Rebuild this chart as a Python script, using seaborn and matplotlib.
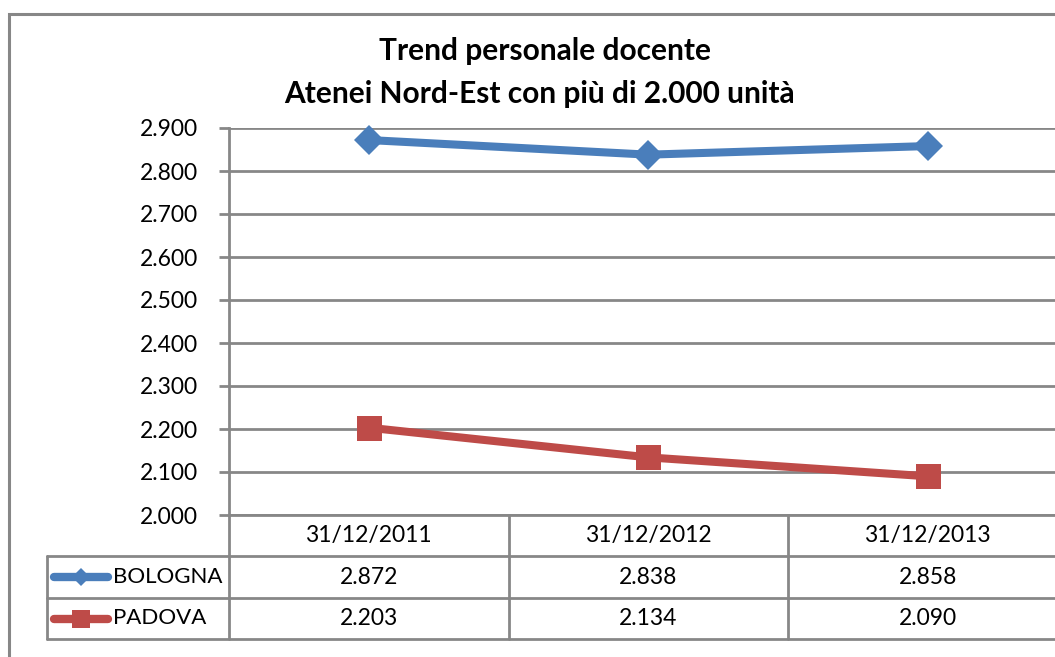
import matplotlib
matplotlib.use("Agg")
import matplotlib.pyplot as plt
import seaborn as sns
import pandas as pd
from matplotlib.lines import Line2D
from matplotlib.patches import Rectangle
from matplotlib.ticker import FuncFormatter, MultipleLocator
import matplotlib.transforms as mtransforms

# ---- data ----
categories = ["31/12/2011", "31/12/2012", "31/12/2013"]
bologna = [2872, 2838, 2858]
padova = [2203, 2134, 2090]
series_names = ["BOLOGNA", "PADOVA"]
title_lines = ["Trend personale docente", "Atenei Nord-Est con più di 2.000 unità"]

BLUE = "#4A7EBB"
RED = "#BE4B48"
GRID = "#878787"

sns.set_theme(style="white")
plt.rcParams["font.family"] = ["Lato", "DejaVu Sans"]
plt.rcParams["text.color"] = "black"

W, H = 1055, 657
fig = plt.figure(figsize=(W / 100, H / 100), dpi=100)

def fx(px):
    return px / W

def fy(py):
    return 1 - py / H

# plot area
left, right, top, bottom = 229, 1067.5, 128, 515
ax = fig.add_axes([fx(left), fy(bottom), fx(right - left), (bottom - top) / H])

x_idx = list(range(len(categories)))
df_b = pd.DataFrame({"x": x_idx, "value": bologna})
df_p = pd.DataFrame({"x": x_idx, "value": padova})

sns.lineplot(data=df_b, x="x", y="value", color=BLUE, marker="D",
             linewidth=5.8, markersize=15, markeredgewidth=0,
             ax=ax, zorder=3, clip_on=False)
sns.lineplot(data=df_p, x="x", y="value", color=RED, marker="s",
             linewidth=5.8, markersize=18, markeredgewidth=0,
             ax=ax, zorder=3, clip_on=False)

ax.set_xlim(-0.5, 2.5)
ax.set_ylim(2000, 2900)
ax.yaxis.set_major_locator(MultipleLocator(100))
ax.yaxis.set_major_formatter(FuncFormatter(lambda v, p: f"{int(v):,}".replace(",", ".")))
ax.set_xticks([])
ax.set_xlabel("")
ax.set_ylabel("")
ax.grid(axis="y", color=GRID, linewidth=2)
ax.set_axisbelow(True)
for s in ["top", "right"]:
    ax.spines[s].set_visible(False)
for s in ["left", "bottom"]:
    ax.spines[s].set_color(GRID)
    ax.spines[s].set_linewidth(2)
ax.tick_params(axis="y", which="major", length=7, width=2, color=GRID,
               labelsize=16.5, labelcolor="black", pad=15.5, left=True)

# title
fig.text(fx(545), fy(51), title_lines[0], ha="center", va="center",
         fontsize=21.5, fontweight="bold", color="black")
fig.text(fx(539), fy(94), title_lines[1], ha="center", va="center",
         fontsize=21.5, fontweight="bold", color="black")

# chart outer border
fig.add_artist(Rectangle((fx(9), fy(700)), fx(1100), (700 - 14) / H,
                         transform=fig.transFigure, fill=False,
                         edgecolor=GRID, linewidth=2.2))

# data table
blend = mtransforms.blended_transform_factory(ax.transData, fig.transFigure)
lw = 2
for yy in [556, 598, 639]:
    fig.add_artist(Line2D([fx(47), fx(1100)], [fy(yy), fy(yy)],
                          transform=fig.transFigure, color=GRID, linewidth=lw))
fig.add_artist(Line2D([fx(47), fx(47)], [fy(556), fy(639)],
                      transform=fig.transFigure, color=GRID, linewidth=lw))
for xb in [-0.5, 0.5, 1.5, 2.5]:
    fig.add_artist(Line2D([xb, xb], [fy(515), fy(639)], transform=blend,
                          color=GRID, linewidth=lw, clip_on=False))

for i, c in enumerate(categories):
    fig.text(i, fy(535.5), c, transform=blend, ha="center", va="center",
             fontsize=16.5, color="black")
for vals, yy in [(bologna, 577), (padova, 618.5)]:
    for i, v in enumerate(vals):
        fig.text(i, fy(yy), f"{v:,}".replace(",", "."), transform=blend,
                 ha="center", va="center", fontsize=16.5, color="black")

# legend keys in table
for name, col, mk, yy, ms in [(series_names[0], BLUE, "D", 577, 9.5),
                              (series_names[1], RED, "s", 618.5, 13)]:
    fig.add_artist(Line2D([fx(54), fx(108)], [fy(yy), fy(yy)], transform=fig.transFigure,
                          color=col, linewidth=6, solid_capstyle="round"))
    fig.add_artist(Line2D([fx(81)], [fy(yy)], transform=fig.transFigure,
                          color=col, marker=mk, markersize=ms, markeredgewidth=0,
                          linestyle="none"))
    fig.text(fx(113), fy(yy), name, ha="left", va="center", fontsize=16, color="black")

fig.savefig("out.png", dpi=100)
